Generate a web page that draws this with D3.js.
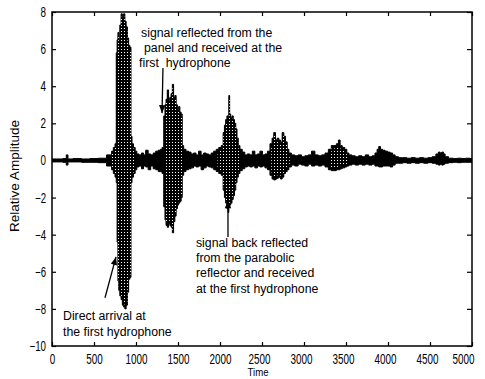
<!DOCTYPE html>
<html><head><meta charset="utf-8">
<script src="https://cdn.jsdelivr.net/npm/d3@7/dist/d3.min.js"></script>
<style>
body{margin:0;background:#fff}
svg{display:block}
text{font-family:"Liberation Sans",Arial,Helvetica,sans-serif;fill:#000;white-space:pre}
</style>
</head><body>
<svg id="c" width="485" height="379"></svg>
<script>
// ---- tick labels ----
const xTicks = [0,500,1000,1500,2000,2500,3000,3500,4000,4500,5000];
const yTicks = [-10,-8,-6,-4,-2,0,2,4,6,8];

// ---- signal envelope (time, upper, lower) ----
const time = [
  0,100,160,180,200,300,400,500,600,700,
  720,740,760,770,780,790,800,815,830,845,860,875,890,905,920,935,945,960,980,1000,
  1020,1050,1080,1100,1130,1160,1190,1220,1250,1280,1300,1320,
  1340,1350,1365,1380,1395,1410,1425,1440,1455,1470,1485,1500,1515,1530,1545,1555,
  1580,1610,1640,1670,1700,1730,1760,1790,1820,1850,1880,1910,1940,1970,2000,2030,
  2045,2060,2075,2090,2100,2110,2120,2135,2150,2165,2180,2195,2210,2225,
  2250,2280,2310,2340,2370,2400,2430,2460,2490,2520,2550,2580,
  2610,2630,2650,2670,2690,2710,2730,2750,2770,2790,2810,2830,
  2870,2910,2950,2990,3030,3070,3110,3150,3190,3230,3270,
  3310,3340,3370,3400,3420,3440,3470,3500,3520,
  3550,3590,3630,3670,3710,3750,3790,3830,3860,
  3880,3900,3920,3950,3980,4010,4040,4070,
  4100,4150,4200,4250,4300,4350,4400,4450,4500,4550,
  4590,4610,4630,4650,4670,4690,
  4750,4800,4850,4900,4950,5000
];
const upper = [
  0.08,0.08,0.1,0.3,0.08,0.1,0.08,0.1,0.12,0.3,
  0.5,0.7,0.9,5.8,6.5,6.9,6.5,7.3,7.9,7.7,7.9,7.5,7.2,6.6,6.2,6.1,1.3,0.9,0.7,0.5,
  0.35,0.3,0.4,0.3,0.55,0.35,0.3,0.4,0.5,0.55,0.6,0.7,
  2.4,3.0,3.3,3.8,3.3,3.4,3.6,4.1,3.4,3.5,3.0,2.8,2.9,2.6,2.5,0.8,
  0.6,0.5,0.45,0.35,0.4,0.3,0.5,0.3,0.4,0.35,0.3,0.4,0.5,0.6,0.7,0.8,
  1.5,1.9,2.2,2.4,2.3,3.5,2.5,2.3,2.4,2.2,2.0,1.7,1.2,0.8,
  0.6,0.45,0.3,0.35,0.3,0.5,0.3,0.35,0.5,0.3,0.35,0.5,
  0.9,1.2,1.5,1.1,1.2,1.1,1.0,1.5,1.3,1.0,0.6,0.4,
  0.3,0.25,0.3,0.2,0.25,0.3,0.5,0.3,0.25,0.3,0.4,
  0.6,0.8,0.8,0.9,1.1,0.8,0.7,0.6,0.4,
  0.3,0.25,0.2,0.25,0.2,0.3,0.2,0.25,0.4,
  0.6,0.75,0.6,0.55,0.5,0.45,0.4,0.3,
  0.2,0.15,0.15,0.12,0.15,0.12,0.15,0.12,0.15,0.2,
  0.35,0.45,0.4,0.45,0.35,0.2,
  0.12,0.1,0.12,0.1,0.12,0.1
];
const lower = [
  -0.08,-0.08,-0.1,-0.25,-0.08,-0.08,-0.1,-0.1,-0.12,-0.3,
  -0.5,-0.7,-0.9,-1.2,-4.4,-6.5,-7.0,-7.3,-7.5,-7.8,-7.9,-8.0,-7.8,-7.1,-6.4,-6.3,-1.2,-0.9,-0.7,-0.5,
  -0.35,-0.3,-0.45,-0.3,-0.35,-0.5,-0.3,-0.45,-0.5,-0.6,-0.6,-0.7,
  -2.5,-3.2,-3.5,-3.6,-3.4,-3.5,-3.6,-3.9,-3.3,-3.0,-2.6,-2.4,-2.3,-2.2,-2.0,-0.8,
  -0.6,-0.5,-0.45,-0.4,-0.3,-0.35,-0.3,-0.5,-0.4,-0.3,-0.35,-0.4,-0.5,-0.6,-0.7,-0.8,
  -1.6,-2.0,-2.3,-2.6,-2.8,-2.5,-2.4,-2.3,-2.1,-1.9,-1.6,-1.2,-0.9,-0.7,
  -0.55,-0.45,-0.35,-0.3,-0.35,-0.3,-0.4,-0.3,-0.35,-0.3,-0.4,-0.5,
  -0.8,-1.0,-1.05,-1.0,-0.95,-0.9,-1.0,-0.9,-0.7,-0.6,-0.5,-0.35,
  -0.25,-0.3,-0.2,-0.25,-0.3,-0.2,-0.3,-0.25,-0.3,-0.25,-0.35,
  -0.5,-0.55,-0.55,-0.5,-0.5,-0.45,-0.4,-0.35,-0.3,
  -0.25,-0.2,-0.25,-0.2,-0.25,-0.2,-0.25,-0.2,-0.3,
  -0.3,-0.35,-0.35,-0.3,-0.3,-0.3,-0.35,-0.25,
  -0.15,-0.15,-0.12,-0.15,-0.12,-0.15,-0.12,-0.15,-0.12,-0.15,
  -0.2,-0.25,-0.2,-0.25,-0.2,-0.15,
  -0.12,-0.1,-0.12,-0.1,-0.1,-0.1
];
// burst intervals (time) where the dense trace shows halftone texture
const burstStart = [700,1330,1960,2600,3300];
const burstEnd   = [1000,1570,2260,2840,3530];

// ---- annotations ----
const note1 = ["signal reflected from the","panel and received at the","first  hydrophone"];
const note1X = [1060,1095,1036];
const note1Y = [6.65,5.84,5.03];
const note2 = ["signal back reflected","from the parabolic","reflector and received","at the first hydrophone"];
const note2X = [1714,1714,1714,1714];
const note2Y = [-4.67,-5.47,-6.28,-7.14];
const note3 = ["Direct arrival at","the first hydrophone"];
const note3X = [131,131];
const note3Y = [-8.6,-9.46];
// arrows: [fromT, fromV, toT, toV]
const arrows = [
  [1321,4.98,1310,2.55],
  [2095,-4.12,2095,-2.15],
  [631,-7.4,762,-5.2]
];

const svg = d3.select("#c");
const x = d3.scaleLinear().domain([0,5000]).range([52,472]);
const y = d3.scaleLinear().domain([-10,8]).range([346,12]);

const defs = svg.append("defs");
const pat = defs.append("pattern").attr("id","ht").attr("patternUnits","userSpaceOnUse")
  .attr("width",3).attr("height",3);
pat.append("rect").attr("width",3).attr("height",3).attr("fill","#000");
pat.append("rect").attr("x",1).attr("y",1).attr("width",1).attr("height",1).attr("fill","#fff");
defs.append("clipPath").attr("id","plot").append("rect")
  .attr("x",52).attr("y",12).attr("width",420).attr("height",334);

const data = time.map((t,i)=>({t, u:upper[i], l:lower[i]}));
const inBurst = t => burstStart.some((s,i)=> t>=s && t<=burstEnd[i]);

const g = svg.append("g").attr("clip-path","url(#plot)");
// full trace in black
g.append("path").datum(data)
  .attr("d", d3.area().curve(d3.curveStep).x(d=>x(d.t)).y0(d=>y(d.l)).y1(d=>y(d.u)))
  .attr("fill","#000").attr("stroke","#000").attr("stroke-width",1).attr("stroke-linejoin","miter");
// halftone interior of bursts
g.append("path").datum(data)
  .attr("d", d3.area().curve(d3.curveStep).defined(d=>inBurst(d.t))
     .x(d=>x(d.t))
     .y0(d=>y(Math.min(d.l+0.15,0)))
     .y1(d=>y(Math.max(d.u-0.15,0))))
  .attr("fill","url(#ht)");

// axes (ticks inward on all four sides)
const fmt = d3.format("d");
const axG = svg.append("g").attr("transform","translate(0,346)")
  .call(d3.axisBottom(x).tickValues(xTicks).tickFormat(fmt).tickSize(-4).tickPadding(8));
svg.append("g").attr("transform","translate(0,12)")
  .call(d3.axisTop(x).tickValues(xTicks).tickFormat("").tickSize(-4));
const ayG = svg.append("g").attr("transform","translate(52,0)")
  .call(d3.axisLeft(y).tickValues(yTicks).tickFormat(fmt).tickSize(-4).tickPadding(5));
svg.append("g").attr("transform","translate(472,0)")
  .call(d3.axisRight(y).tickValues(yTicks).tickFormat("").tickSize(-5));
svg.selectAll(".domain").remove();
svg.selectAll(".tick line").attr("stroke","#000").attr("stroke-width",1.2);
svg.selectAll(".tick text").attr("font-size",14).attr("font-family",'"Liberation Sans",Arial,sans-serif')
  .each(function(){
    const s=d3.select(this); const n=s.text().length;
    s.attr("textLength",n*5.5).attr("lengthAdjust","spacingAndGlyphs");
  });
ayG.selectAll(".tick text").attr("dx",-1);
// in the scan the right-hand x labels sit slightly left of their ticks
axG.selectAll(".tick text").attr("dx", d => d===5000 ? -9 : (d>=2500 ? -3 : 0));
// frame
svg.append("rect").attr("x",52).attr("y",12).attr("width",420).attr("height",334)
  .attr("fill","none").attr("stroke","#000").attr("stroke-width",1.5);

// axis titles
svg.append("text").attr("x",258).attr("y",376).attr("text-anchor","middle")
  .attr("font-size",11.5).attr("textLength",21).attr("lengthAdjust","spacingAndGlyphs").text("Time");
svg.append("text").attr("transform","translate(19,176) rotate(-90)").attr("text-anchor","middle")
  .attr("font-size",12).attr("textLength",112).attr("lengthAdjust","spacingAndGlyphs").text("Relative Amplitude");

// annotation texts
function notes(lines, xs, ys){
  lines.forEach((s,i)=>{
    svg.append("text").attr("x",x(xs[i])).attr("y",y(ys[i])).attr("font-size",12.3).text(s);
  });
}
notes(note1,note1X,note1Y);
notes(note2,note2X,note2Y);
notes(note3,note3X,note3Y);

// arrows
arrows.forEach(a=>{
  const x1=x(a[0]), y1=y(a[1]), x2=x(a[2]), y2=y(a[3]);
  svg.append("line").attr("x1",x1).attr("y1",y1).attr("x2",x2).attr("y2",y2)
    .attr("stroke","#000").attr("stroke-width",1.3);
  const ang = Math.atan2(y2-y1, x2-x1), L=8, W=3.2;
  const bx = x2 - L*Math.cos(ang), by = y2 - L*Math.sin(ang);
  const px = -Math.sin(ang)*W, py = Math.cos(ang)*W;
  svg.append("path").attr("d",`M${x2},${y2}L${bx+px},${by+py}L${bx-px},${by-py}Z`).attr("fill","#000");
});
</script>
</body></html>
